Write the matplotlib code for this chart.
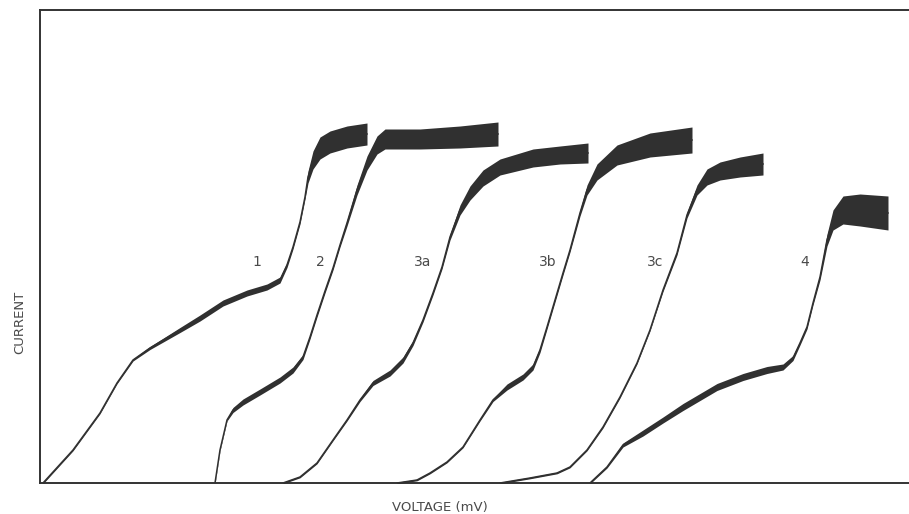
"""Polarographic current-voltage curves, redrawn from a scanned figure."""

import numpy as np
import matplotlib.pyplot as plt

# voltage (arbitrary mV scale) and current (arbitrary units)
v_1 = [3, 33, 60, 77, 93, 110, 140, 160, 183, 207, 227, 240, 247, 253, 260,
       265, 268, 273, 280, 290, 307, 327]
i_1 = [0, 33, 70, 100, 123, 135, 153, 165, 180, 190, 196, 203, 218, 236, 261,
       286, 306, 323, 335, 341, 346, 349]
osc_1 = [0.8, 0.8, 0.8, 0.8, 1, 1.5, 2.5, 3, 3, 3, 3, 3, 2.5, 2, 2,
         2, 6, 9, 11, 11, 11, 11]

v_2 = [175, 180, 187, 193, 203, 220, 240, 253, 263, 270, 277, 285, 293, 300,
       307, 317, 327, 337, 345, 380, 420, 458]
i_2 = [0, 33, 63, 73, 81, 91, 103, 113, 126, 146, 168, 192, 215, 238,
       260, 293, 320, 338, 344, 344, 346, 349]
osc_2 = [0.8, 0.8, 1, 2.5, 3, 3, 3, 3, 2.5, 2, 2, 2, 2, 2,
         3, 5, 7, 9, 10, 10, 11, 12]

v_3a = [243, 260, 277, 293, 307, 320, 333, 350, 363, 373, 383, 393, 402, 410,
        420, 430, 443, 460, 493, 520, 548]
i_3a = [0, 6, 20, 43, 63, 83, 100, 110, 123, 140, 163, 190, 216, 246,
        273, 290, 305, 316, 325, 328, 330]
osc_3a = [0.8, 0.8, 0.8, 0.8, 1, 1.5, 2.5, 3, 3, 2.5, 2, 2, 2, 3,
          5, 7, 8, 8, 9, 9, 10]

v_3b = [357, 377, 390, 407, 423, 440, 453, 467, 483, 493, 500, 507, 515, 523,
        530, 540, 547, 557, 577, 610, 652]
i_3b = [0, 3, 10, 21, 36, 63, 83, 96, 106, 116, 133, 156, 183, 210,
        233, 270, 293, 311, 328, 338, 343]
osc_3b = [0.8, 0.8, 0.8, 0.8, 0.8, 1, 1.5, 3, 3, 3, 2.5, 2, 2, 2,
          2, 3, 5, 8, 10, 12, 13]

v_3c = [460, 490, 517, 530, 547, 563, 580, 597, 610, 623, 637, 647, 657, 667,
        680, 700, 723]
i_3c = [0, 5, 10, 16, 33, 56, 86, 120, 153, 193, 230, 268, 293, 306,
        312, 316, 319]
osc_3c = [0.8, 0.8, 0.8, 0.8, 0.8, 1, 1, 1, 1, 1.5, 2, 3, 5, 8,
          9, 10, 11]

v_4 = [550, 567, 583, 603, 623, 643, 677, 703, 727, 743, 753, 760, 767, 773,
       780, 787, 793, 803, 820, 848]
i_4 = [0, 16, 38, 50, 63, 76, 96, 106, 113, 116, 125, 140, 156, 180,
       206, 243, 263, 273, 273, 270]
osc_4 = [0.8, 1, 2, 3, 3, 3.5, 3.5, 3.5, 3.5, 3, 2.5, 2, 2, 2,
         3, 6, 10, 14, 16, 17]

curves = [
    ("1", v_1, i_1, osc_1),
    ("2", v_2, i_2, osc_2),
    ("3a", v_3a, i_3a, osc_3a),
    ("3b", v_3b, i_3b, osc_3b),
    ("3c", v_3c, i_3c, osc_3c),
    ("4", v_4, i_4, osc_4),
]
label_pos = {"1": (217, 221), "2": (280, 221), "3a": (383, 221),
             "3b": (508, 221), "3c": (615, 221), "4": (765, 221)}

ink = "#303030"
text_ink = "#4a4a4a"

fig = plt.figure(figsize=(9.09, 5.14), dpi=100)
ax = fig.add_axes([40 / 909, 31 / 514, 869 / 909, 473 / 514])

for name, v, i, osc in curves:
    v = np.asarray(v, float)
    i = np.asarray(i, float)
    osc = np.asarray(osc, float)
    ax.plot(v, i, color=ink, lw=1.1, solid_joinstyle="round", zorder=2)
    # drop-time oscillation drawn as a band around the mean trace
    ax.fill_between(v, i - osc, i + osc, color=ink, linewidth=0, zorder=3)
    lx, ly = label_pos[name]
    ax.text(lx, ly, name, fontsize=10, color=text_ink, ha="center", va="center")

ax.set_xlim(0, 869)
ax.set_ylim(0, 473)
ax.set_xticks([])
ax.set_yticks([])
for side in ("left", "top", "bottom"):
    ax.spines[side].set_linewidth(1.4)
    ax.spines[side].set_color("#333333")
ax.spines["right"].set_visible(False)

fig.text(20 / 909, 1 - 322 / 514, "CURRENT", rotation=90, fontsize=9.5,
         color=text_ink, ha="center", va="center")
fig.text(440 / 909, 1 - 507 / 514, "VOLTAGE (mV)", fontsize=9.5,
         color=text_ink, ha="center", va="center")

fig.savefig("out.png", dpi=100, facecolor="white")
